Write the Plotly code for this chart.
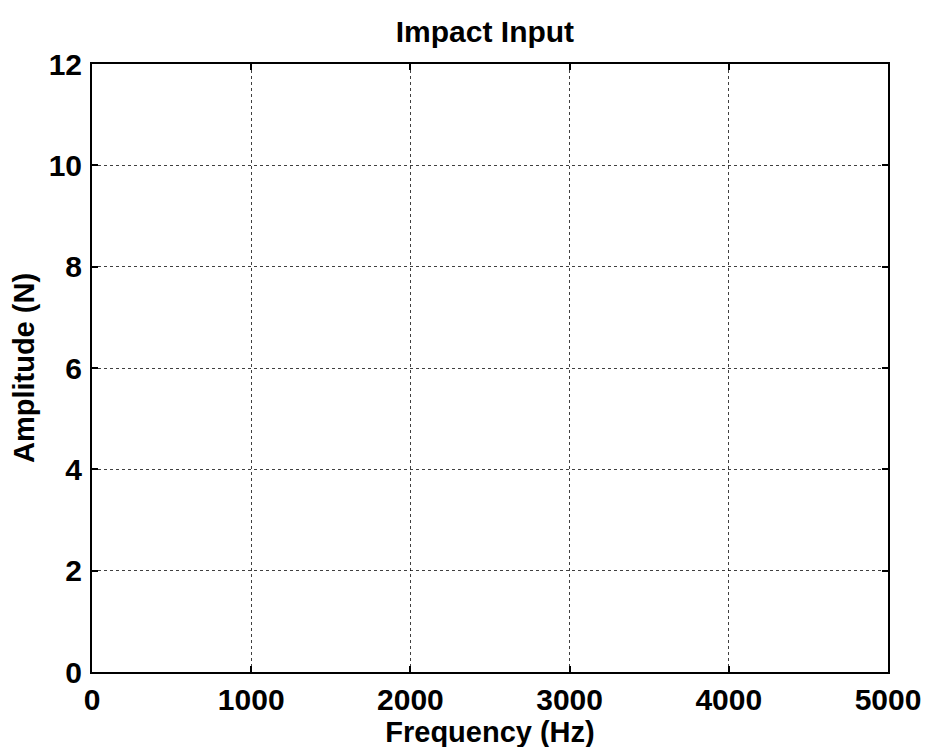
import plotly.graph_objects as go

# Data (the reference plot shows an empty axes: no visible series)
frequency_hz = []
amplitude_n = []

x_tick_values = [0, 1000, 2000, 3000, 4000, 5000]
x_tick_labels = ["0", "1000", "2000", "3000", "4000", "5000"]
y_tick_values = [0, 2, 4, 6, 8, 10, 12]
y_tick_labels = ["0", "2", "4", "6", "8", "10", "12"]

title_text = "Impact Input"
x_title = "Frequency (Hz)"
y_title = "Amplitude (N)"

FONT = "Liberation Sans, Arial, sans-serif"

fig = go.Figure()
fig.add_trace(go.Scatter(x=frequency_hz, y=amplitude_n, mode="lines",
                         line=dict(color="black", width=1.5), showlegend=False))

axis_common = dict(
    showline=True, linecolor="black", linewidth=2, mirror="ticks",
    ticks="inside", ticklen=6, tickwidth=1.5, tickcolor="black",
    showgrid=True, gridcolor="rgba(0,0,0,0.75)", gridwidth=1, griddash="dot",
    zeroline=False,
    tickfont=dict(family=FONT, size=30, color="black", weight="bold"),
)

fig.update_xaxes(
    range=[0, 5000], tickmode="array", tickvals=x_tick_values, ticktext=x_tick_labels,
    ticklabelstandoff=0,
    title=dict(text=x_title, font=dict(family=FONT, size=29, color="black", weight="bold"), standoff=0),
    **axis_common,
)
fig.update_yaxes(
    range=[0, 12], tickmode="array", tickvals=y_tick_values, ticktext=y_tick_labels,
    ticklabelstandoff=2,
    title=dict(text=y_title, font=dict(family=FONT, size=29, color="black", weight="bold"), standoff=6),
    **axis_common,
)

fig.update_layout(
    width=952, height=747,
    margin=dict(l=84, r=72, t=56, b=83),
    paper_bgcolor="white", plot_bgcolor="white",
    title=dict(text=title_text, x=0.501, xanchor="center", y=0.969, yanchor="middle",
               font=dict(family=FONT, size=30, color="black", weight="bold")),
)

fig.write_html("out.html")
